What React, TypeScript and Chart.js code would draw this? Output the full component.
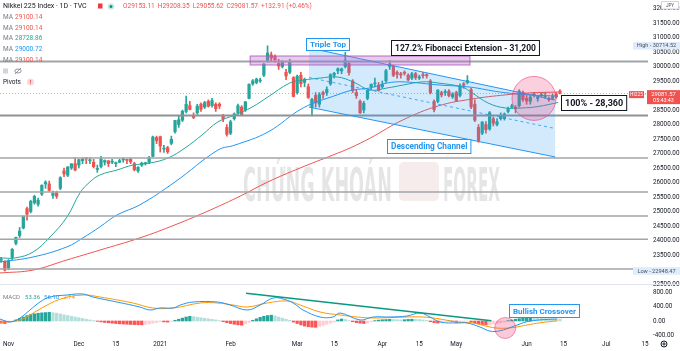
import React, { useEffect, useRef } from 'react';
import { Chart, registerables } from 'chart.js';

Chart.register(...registerables);

// ---------- DATA (daily bars, index 0 = Nov 2 2020; first bar = Oct 29 2020) ----------
const FIRST_BAR = -2;

const opens = [
  23320, 23280,
  23060, 23420, 23900, 24170, 24430, 25100, 25000, 25300, 25250, 25600, 25950, 25950, 25550, 25650, 25800, 26400, 26250, 26500, 26650,
  26600, 26750, 26850, 26750, 26700, 26450, 26550, 26700, 26750, 26700, 26650, 26700, 26780, 26780, 26800, 26650, 26400, 26600, 26650, 26700, 26900, 27550,
  27580, 27150, 27200, 27350, 27750, 28000, 28150, 28450, 28650, 28300, 28400, 28700, 28600, 28800, 28650, 28700, 28700, 28300, 27900,
  27700, 28200, 28400, 28600, 28500, 28900, 29400, 29450, 29500, 29700, 30200, 30400, 30350, 30100, 30000, 29800, 29800, 29616,
  29100, 29700, 29450, 29300, 28600, 29000, 28700, 29100, 29100, 29400, 29700, 29850, 29850, 30000, 30100, 29500, 29100, 28800, 28500, 28900, 29300, 29400, 29350,
  29300, 29500, 30000, 30000, 29800, 29750, 29800, 29700, 29600, 29750, 29600, 29700, 29700, 29500, 28800, 28800, 29100, 29100, 29150, 28950, 29100,
  29000, 29400, 29450, 29200, 28700, 27900, 27700, 28000, 27850, 28200, 28000, 28200, 28200, 28450, 28600, 28600, 28650, 29100,
  28900, 28800, 29000, 28900, 29000, 28950, 28900, 28900, 29050, 29153.11,
];
const highs = [
  23420, 23300,
  23340, 23725, 24120, 24450, 24840, 25150, 25390, 25560, 25460, 25920, 26060, 26050, 25700, 25700, 26200, 26500, 26550, 26650, 26850,
  26800, 26850, 26850, 26850, 26800, 26600, 26900, 26780, 26750, 26800, 26700, 26800, 26850, 26800, 26850, 26700, 26550, 26700, 26700, 26900, 27600, 27600,
  27600, 27280, 27250, 27600, 28140, 28290, 28500, 28980, 28800, 28400, 28700, 28750, 28800, 28850, 28900, 28750, 28750, 28350, 28000,
  28150, 28400, 28700, 28650, 28800, 29400, 29550, 29600, 29600, 30100, 30714.52, 30500, 30400, 30250, 30200, 29900, 30250, 29650,
  29700, 29800, 29600, 29400, 28900, 29100, 29100, 29150, 29300, 29750, 29800, 29950, 29950, 30485, 30150, 29550, 29200, 28850, 28800, 29200, 29400, 29600, 29450,
  29500, 29900, 30208, 30050, 29850, 29800, 29850, 29750, 29800, 29800, 29700, 29800, 29750, 29550, 28850, 29200, 29150, 29200, 29200, 29100, 29150,
  29400, 29450, 29685, 29250, 28850, 28000, 28100, 28100, 28450, 28250, 28200, 28400, 28400, 28600, 28700, 28650, 29200, 29150,
  29000, 29000, 29100, 29000, 29100, 29100, 28950, 29050, 29100, 29208.35,
];
const lows = [
  23250, 22948.47,
  22990, 23340, 23850, 24100, 24400, 24700, 24950, 25250, 25180, 25550, 25800, 25700, 25450, 25450, 25750, 26200, 26200, 26450, 26400,
  26500, 26650, 26650, 26650, 26500, 26350, 26500, 26600, 26550, 26650, 26550, 26680, 26700, 26650, 26650, 26400, 26350, 26550, 26600, 26650, 26880, 27340,
  27050, 27040, 27000, 27300, 27700, 27900, 28100, 28400, 28500, 28200, 28350, 28450, 28550, 28600, 28600, 28450, 28550, 28100, 27600,
  27650, 28150, 28350, 28300, 28450, 28880, 29350, 29400, 29450, 29650, 30150, 30200, 30150, 29900, 29950, 29550, 29750, 28950,
  29050, 29300, 29300, 28900, 28300, 28600, 28600, 28900, 29000, 29350, 29600, 29750, 29750, 29950, 29700, 29100, 28900, 28380, 28400, 28850, 29200, 29300, 29150,
  29250, 29450, 29900, 29650, 29600, 29600, 29700, 29500, 29550, 29550, 29550, 29600, 29600, 29050, 28430, 28750, 28950, 29000, 28950, 28900, 28800,
  28950, 29250, 29400, 28550, 28100, 27385, 27650, 27700, 27800, 27950, 27950, 28150, 28150, 28400, 28550, 28400, 28600, 28800,
  28700, 28700, 28950, 28800, 28950, 28900, 28800, 28850, 28900, 29055.62,
];
const closes = [
  23331, 22977,
  23295, 23695, 24105, 24325, 24839, 24905, 25349, 25520, 25385, 25906, 26014, 25728, 25634, 25527, 26165, 26296, 26537, 26644, 26433,
  26787, 26800, 26809, 26751, 26547, 26467, 26817, 26756, 26652, 26732, 26687, 26757, 26806, 26763, 26714, 26436, 26524, 26668, 26656, 26854, 27568, 27444,
  27258, 27158, 27056, 27490, 28139, 28164, 28456, 28698, 28519, 28242, 28633, 28523, 28756, 28631, 28822, 28546, 28635, 28197, 27663,
  28091, 28362, 28646, 28341, 28779, 29388, 29505, 29562, 29520, 30084, 30467, 30292, 30236, 30017, 30156, 29671, 30168, 28966,
  29663, 29408, 29559, 28930, 28864, 28743, 29028, 29036, 29211, 29717, 29766, 29921, 29914, 30216, 29792, 29174, 28995, 28405, 28729, 29176, 29384, 29432, 29178,
  29388, 29854, 30089, 29696, 29730, 29708, 29768, 29538, 29751, 29620, 29642, 29683, 29685, 29100, 28508, 29188, 29020, 29126, 28991, 29053, 28812,
  29331, 29357, 29518, 28608, 28147, 27448, 28084, 27824, 28406, 28044, 28098, 28317, 28364, 28553, 28642, 28549, 29149, 28860,
  28814, 28946, 29058, 28941, 29019, 28963, 28860, 28958, 28949, 29081.57,
];

// moving averages: [bar index, price]
const maGreen = [
  [-2.3, 23400], [1.8, 23400], [6.6, 23600], [11.2, 24120], [15.8, 24810], [19.3, 25640], [22, 26020], [24.7, 26260],
  [29.3, 26430], [33.6, 26600], [38.2, 26670], [43.1, 26845], [47.7, 27190], [52.3, 27640], [56.6, 28090], [61.2, 28330],
  [65.8, 28600], [70.1, 28950], [76, 29430], [79.6, 29530], [84.2, 29600], [88.8, 29640], [93.1, 29470], [97.7, 29190],
  [102.3, 29260], [106.6, 29360], [111.8, 29470], [116.1, 29430], [122.6, 29290], [125.3, 29090], [129.6, 28740],
  [134.2, 28570], [138.8, 28570], [143.1, 28620], [148.5, 28760],
];
const maBlue = [
  [-2.3, 23260], [6.6, 23430], [15.8, 23780], [20.1, 24090], [24.7, 24470], [29.3, 24880], [35.5, 25230], [45, 26020],
  [56.6, 27120], [61.2, 27290], [70.1, 27740], [79.6, 28570], [88.8, 29020], [93.1, 29190], [97.7, 29260], [102.3, 29430],
  [106.6, 29470], [116.6, 29360], [124.7, 29290], [132.8, 29120], [140.9, 29020], [148.5, 28980],
];
const maRed = [
  [-2.3, 22880], [6.6, 22980], [15.8, 23330], [24.7, 23670], [35.5, 24090], [45, 24540], [54.5, 25050], [62.6, 25530],
  [70.1, 26020], [78.8, 26500], [87.7, 26950], [92.3, 27190], [97.7, 27530], [106.6, 28160], [116.1, 28640], [125.3, 28880],
  [134.2, 29020], [140.9, 29090], [148.5, 29120],
];

// MACD pane
const macdLine = [
  [-2.3, 55], [0.4, -28], [3.1, 83], [5.8, 303], [8.5, 524], [11.2, 662], [15.8, 717], [20.1, 745], [22.8, 662], [29.3, 524],
  [35.5, 386], [38.2, 303], [40.9, 359], [44.5, 359], [46.4, 441], [49.9, 524], [56.4, 524], [59.9, 441], [64.5, 303], [68, 441],
  [71.5, 634], [74.2, 607], [76.9, 497], [79.6, 303], [84.2, 110], [87.7, 110], [89.6, 221], [95, 28], [98.5, 110], [103.1, 110],
  [107.7, 138], [111.2, 221], [113.9, 110], [116.6, -28], [121.2, -55], [123.9, -55], [127.4, -166], [130.1, -280], [132.8, -270],
  [136.4, -150], [140.1, -20], [143.6, 30], [148.2, 56.1],
];
const signalLine = [
  [-2.3, -28], [3.1, 28], [8.5, 330], [13.9, 600], [20.1, 717], [24.7, 662], [33.6, 497], [39, 359], [44.5, 359], [51.8, 497],
  [56.4, 497], [60.7, 441], [64.5, 386], [69.9, 497], [75.3, 552], [78.8, 441], [84.2, 248], [89.6, 166], [94.2, 110], [98.5, 83],
  [107.7, 110], [112, 110], [116.6, 55], [121.2, -28], [125.5, -55], [130.1, -166], [132.8, -200], [136.4, -180], [140.1, -110],
  [143.6, -50], [148.2, 2.74],
];
const macdHist = [
  -60, -70, -50,
  -10, 30, 70, 110, 150, 180, 200, 215, 225, 232, 238,
  230, 215, 195, 170, 150, 130, 110, 90, 70, 50, 30, 10,
  -10, -25, -40, -50, -60, -70, -78, -85, -90, -95, -100, -103, -105,
  -95, -80, -60, -40, -20,
  -25, -30,
  -10,
  20, 50, 80, 110, 130,
  120, 105, 90, 75, 60, 45, 30, 10,
  -20, -45, -70, -90, -105, -115,
  -80, -40,
  20, 60, 100, 130, 150, 160,
  140, 110, 80, 50, 20,
  -30, -70, -110, -140, -160, -170, -175,
  -150, -120, -90, -60, -30,
  30, 55, 40, 10,
  -20, -45, -60, -70,
  -50, -20,
  10, 25, 35, 40, 45, 40, 35, 30, 35, 45, 50, 45, 40, 30, 15,
  -20, -45, -60,
  -35, -15, 10, -20, -40, -30, -15, -5,
  -30, -55, -80, -95, -105, -100, -85, -70, -50, -25,
  10, 30, 50, 65, 75, 85, 90,
  85, 80, 75, 70, 65, 60, 57, 53.36,
];

const priceTicks = [32000, 31500, 31000, 30500, 30000, 29500, 28500, 28000, 27500, 27000, 26500, 26000, 25500, 25000, 24500, 24000, 23500, 22500];
const macdTicks = [800, 400, 0, -400];
const timeTicks = [0, 19, 29, 41, 60, 78, 88, 101, 111, 121, 140, 150, 161.5, 172];
const timeLabels = ['Nov', 'Dec', '15', '2021', 'Feb', 'Mar', '15', 'Apr', '15', 'May', 'Jun', '15', 'Jul', '15'];
const levelPrices = [30170, 28310, 26845, 25670, 24845, 24045, 23018];

const legendTitle = 'Nikkei 225 Index · 1D · TVC';
const ohlcLegend = [['O', '29153.11'], ['H', '29208.35'], ['L', '29055.62'], ['C', '29081.57']];
const changeLegend = '+132.91 (+0.46%)';
const maLegend = [['29100.14', '#ef5350'], ['29100.14', '#ef5350'], ['28728.86', '#26a69a'], ['29000.72', '#2196f3'], ['29100.14', '#ef5350']];
const macdLegend = [['53.36', '#26a69a'], ['56.10', '#2196f3'], ['2.74', '#ff9800']];
const lastPrice = 29081.57;
const highPrice = 30714.52;
const lowPrice = 22948.47;

// drawings (data coordinates: bar index, price)
const channelTop = [[81.2, 30640], [147.7, 28845]];
const channelBottom = [[81.2, 28600], [147.7, 26880]];
const tripleTopZone = { x0: 65.3, x1: 124.7, p0: 30362, p1: 30052 };
const priceCircle = { x: 142, p: 28900 };
const macdCircle = { x: 134.2, v: -193 };
const macdTrend = [[64.2, 764], [130.5, 10]];
const mainLabels = [
  { text: 'Triple Top', x: 86.2, p: 30776, color: '#2196f3', font: 'bold 8px Roboto', h: 12 },
  { text: '127.2% Fibonacci Extension - 31,200', x: 123.4, p: 30655, color: '#131722', font: 'bold 8.5px Roboto', h: 15 },
  { text: '100% - 28,360', x: 158.1, p: 28759, color: '#131722', font: 'bold 9px Roboto', h: 15 },
  { text: 'Descending Channel', x: 113.6, p: 27259, color: '#2196f3', font: 'bold 8.3px Roboto', h: 14 },
];
const macdLabel = { text: 'Bullish Crossover', x: 144.7, v: 290, color: '#2196f3', font: 'bold 8px Roboto', h: 13 };

// ---------- styling ----------
const UP = '#26a69a';
const DOWN = '#ef5350';
const X_MIN = -2.3;
const X_MAX = 172.8;

function txt(ctx: any, s: string, x: number, y: number, font: string, color: string, align = 'left') {
  ctx.font = font;
  ctx.fillStyle = color;
  ctx.textAlign = align;
  ctx.textBaseline = 'middle';
  ctx.fillText(s, x, y);
}

function textBox(ctx: any, text: string, cx: number, cy: number, font: string, color: string, h: number) {
  ctx.font = font;
  const w = ctx.measureText(text).width + 7;
  const x = Math.round(cx - w / 2) + 0.5;
  const y = Math.round(cy - h / 2) + 0.5;
  ctx.fillStyle = '#ffffff';
  ctx.fillRect(x, y, w, h);
  ctx.strokeStyle = color;
  ctx.lineWidth = 1;
  ctx.strokeRect(x, y, w, h);
  txt(ctx, text, x + w / 2, y + h / 2 + 0.5, font, color, 'center');
}

function drawScaled(ctx: any, s: string, x: number, base: number, width: number) {
  const w = ctx.measureText(s).width;
  ctx.save();
  ctx.translate(x, base);
  ctx.scale(width / w, 1);
  ctx.textAlign = 'left';
  ctx.textBaseline = 'alphabetic';
  ctx.fillText(s, 0, 0);
  ctx.restore();
}

function candleColor(c: any) {
  const k = c.dataIndex;
  if (k === undefined) return UP;
  return closes[k] >= opens[k] ? UP : DOWN;
}

function histColor(c: any) {
  const k = c.dataIndex;
  if (k === undefined) return UP;
  const v = macdHist[k];
  const prev = k > 0 ? macdHist[k - 1] : 0;
  if (v >= 0) return v >= prev ? '#26a69a' : '#b2dfdb';
  return v < prev ? '#ff5252' : '#ffcdd2';
}

const toXY = (pts: number[][]) => pts.map(([x, y]) => ({ x, y }));

const mainOverlay = {
  id: 'mainOverlay',
  beforeDatasetsDraw(chart: any) {
    const ctx = chart.ctx;
    ctx.save();
    ctx.fillStyle = 'rgba(0,0,0,0.1)';
    ctx.font = 'bold 46px "DejaVu Sans"';
    drawScaled(ctx, 'CHỨNG KHOÁN', 243, 201, 149);
    drawScaled(ctx, 'FOREX', 443, 201, 57);
    ctx.fillStyle = 'rgba(200,120,120,0.14)';
    ctx.beginPath();
    ctx.roundRect(399, 162, 40, 39, 5);
    ctx.fill();
    ctx.restore();
  },
  afterDatasetsDraw(chart: any) {
    const { ctx, chartArea: a } = chart;
    const xs = chart.scales.x;
    const ys = chart.scales.y;
    const X = (v: number) => xs.getPixelForValue(v);
    const Y = (v: number) => ys.getPixelForValue(v);
    ctx.save();
    ctx.beginPath();
    ctx.rect(a.left, a.top, a.right - a.left, a.bottom - a.top);
    ctx.clip();

    // horizontal levels
    levelPrices.forEach((p, i) => {
      ctx.strokeStyle = i === 1 ? '#8f9196' : '#a2a4a8';
      ctx.lineWidth = i <= 1 ? 2 : 1.5;
      ctx.beginPath();
      ctx.moveTo(a.left, Y(p));
      ctx.lineTo(a.right, Y(p));
      ctx.stroke();
    });

    // current price line
    ctx.setLineDash([1, 2]);
    ctx.strokeStyle = 'rgba(239,83,80,0.55)';
    ctx.lineWidth = 1;
    ctx.beginPath();
    ctx.moveTo(a.left, Math.round(Y(lastPrice)) + 0.5);
    ctx.lineTo(a.right, Math.round(Y(lastPrice)) + 0.5);
    ctx.stroke();
    ctx.setLineDash([]);

    // descending channel
    const [[cx0, t0], [cx1, t1]] = channelTop;
    const [[, b0], [, b1]] = channelBottom;
    ctx.fillStyle = 'rgba(33,150,243,0.2)';
    ctx.beginPath();
    ctx.moveTo(X(cx0), Y(t0));
    ctx.lineTo(X(cx1), Y(t1));
    ctx.lineTo(X(cx1), Y(b1));
    ctx.lineTo(X(cx0), Y(b0));
    ctx.closePath();
    ctx.fill();
    ctx.strokeStyle = '#2196f3';
    ctx.lineWidth = 1;
    ctx.beginPath();
    ctx.moveTo(X(cx0), Y(t0));
    ctx.lineTo(X(cx1), Y(t1));
    ctx.moveTo(X(cx0), Y(b0));
    ctx.lineTo(X(cx1), Y(b1));
    ctx.stroke();
    ctx.setLineDash([3, 3]);
    ctx.strokeStyle = 'rgba(33,150,243,0.8)';
    ctx.beginPath();
    ctx.moveTo(X(cx0), Y((t0 + b0) / 2));
    ctx.lineTo(X(cx1), Y((t1 + b1) / 2));
    ctx.stroke();
    ctx.setLineDash([]);

    // triple top zone
    const z = tripleTopZone;
    ctx.fillStyle = 'rgba(186,104,200,0.35)';
    ctx.strokeStyle = 'rgba(170,90,190,0.85)';
    ctx.lineWidth = 1;
    ctx.fillRect(X(z.x0), Y(z.p0), X(z.x1) - X(z.x0), Y(z.p1) - Y(z.p0));
    ctx.strokeRect(X(z.x0), Y(z.p0), X(z.x1) - X(z.x0), Y(z.p1) - Y(z.p0));

    // circle
    ctx.beginPath();
    ctx.arc(X(priceCircle.x), Y(priceCircle.p), 22, 0, Math.PI * 2);
    ctx.fillStyle = 'rgba(236,64,122,0.25)';
    ctx.fill();
    ctx.strokeStyle = 'rgba(236,64,122,0.6)';
    ctx.stroke();
    ctx.restore();
  },
  afterDraw(chart: any) {
    const ctx = chart.ctx;
    const xs = chart.scales.x;
    const ys = chart.scales.y;
    const X = (v: number) => xs.getPixelForValue(v);
    const Y = (v: number) => ys.getPixelForValue(v);
    ctx.save();

    // legend
    txt(ctx, legendTitle, 3, 6.5, '7px Roboto', '#131722');
    ctx.fillStyle = '#f23645';
    ctx.fillRect(98, 3.5, 4.5, 5);
    ctx.beginPath();
    ctx.arc(111, 6.5, 3.3, 0, Math.PI * 2);
    ctx.fillStyle = 'rgba(38,166,154,0.25)';
    ctx.fill();
    ctx.beginPath();
    ctx.arc(111, 6.5, 1.5, 0, Math.PI * 2);
    ctx.fillStyle = '#089981';
    ctx.fill();
    const lf = '6.5px Roboto';
    ctx.font = lf;
    let lx = 123;
    ohlcLegend.forEach(([k, v]) => {
      txt(ctx, k, lx, 6.5, lf, '#ef5350');
      lx += ctx.measureText(k).width;
      txt(ctx, v, lx, 6.5, lf, '#ef5350');
      lx += ctx.measureText(v).width + 3;
    });
    txt(ctx, changeLegend, lx, 6.5, lf, '#ef5350');

    maLegend.forEach(([v, c], i) => {
      const y = 17 + i * 10.9;
      txt(ctx, 'MA', 3, y, lf, '#787b86');
      txt(ctx, v, 15, y, lf, c);
    });
    ctx.fillStyle = '#d1d4dc';
    ctx.fillRect(3, 68.5, 5, 5);
    ctx.strokeStyle = '#787b86';
    ctx.lineWidth = 0.8;
    ctx.beginPath();
    ctx.ellipse(18, 71, 3.2, 2, 0, 0, Math.PI * 2);
    ctx.stroke();
    ctx.beginPath();
    ctx.moveTo(15, 74);
    ctx.lineTo(21, 68);
    ctx.stroke();
    txt(ctx, 'Pivots', 3, 82, lf, '#131722');
    ctx.beginPath();
    ctx.arc(30.5, 82, 3.6, 0, Math.PI * 2);
    ctx.fillStyle = 'rgba(242,54,69,0.2)';
    ctx.fill();
    txt(ctx, '!', 30.5, 82.3, 'bold 5.5px Roboto', '#f23645', 'center');

    // price axis
    priceTicks.forEach((p) => txt(ctx, p.toFixed(2), 653, Y(p), '6.3px Roboto', '#131722'));
    ctx.fillStyle = '#ffffff';
    ctx.fillRect(661.5, 1.5, 17, 7.5);
    ctx.strokeStyle = '#d1d4dc';
    ctx.lineWidth = 1;
    ctx.strokeRect(661.5, 1.5, 17, 7.5);
    txt(ctx, 'JPY', 670, 5.5, '4.6px Roboto', '#50535e', 'center');

    const sideBadge = (label: string, y: number) => {
      ctx.fillStyle = '#deecfc';
      ctx.fillRect(633, y - 3.8, 47, 7.6);
      txt(ctx, label, 656.5, y + 0.2, '5.6px Roboto', '#4a4e5a', 'center');
    };
    sideBadge('High - ' + highPrice.toFixed(2), Y(highPrice));
    sideBadge('Low - ' + lowPrice.toFixed(2), Y(lowPrice));

    const ly = Y(lastPrice);
    ctx.fillStyle = '#ef5350';
    ctx.fillRect(629, ly - 2, 15, 7);
    txt(ctx, 'HI225', 636.5, ly + 1.6, '4.8px Roboto', '#ffffff', 'center');
    txt(ctx, '-', 645.5, ly + 1.5, '5px Roboto', '#ef5350', 'center');
    ctx.fillStyle = '#ef5350';
    ctx.fillRect(647, ly - 3, 33, 14);
    txt(ctx, lastPrice.toFixed(2), 663.5, ly + 1, '5.8px Roboto', '#ffffff', 'center');
    txt(ctx, '05:43:43', 663.5, ly + 7.2, '5.4px Roboto', '#ffffff', 'center');

    mainLabels.forEach((l) => textBox(ctx, l.text, X(l.x), Y(l.p), l.font, l.color, l.h));
    ctx.restore();
  },
};

const macdOverlay = {
  id: 'macdOverlay',
  afterDatasetsDraw(chart: any) {
    const { ctx, chartArea: a } = chart;
    const xs = chart.scales.x;
    const ys = chart.scales.y;
    const X = (v: number) => xs.getPixelForValue(v);
    const Y = (v: number) => ys.getPixelForValue(v);
    ctx.save();
    ctx.beginPath();
    ctx.rect(a.left, a.top, a.right - a.left, a.bottom - a.top);
    ctx.clip();
    ctx.strokeStyle = '#089981';
    ctx.lineWidth = 1.5;
    ctx.beginPath();
    ctx.moveTo(X(macdTrend[0][0]), Y(macdTrend[0][1]));
    ctx.lineTo(X(macdTrend[1][0]), Y(macdTrend[1][1]));
    ctx.stroke();
    ctx.beginPath();
    ctx.arc(X(macdCircle.x), Y(macdCircle.v), 10.5, 0, Math.PI * 2);
    ctx.fillStyle = 'rgba(236,64,122,0.28)';
    ctx.fill();
    ctx.strokeStyle = 'rgba(236,64,122,0.55)';
    ctx.lineWidth = 1;
    ctx.stroke();
    ctx.restore();
  },
  afterDraw(chart: any) {
    const ctx = chart.ctx;
    const xs = chart.scales.x;
    const ys = chart.scales.y;
    const X = (v: number) => xs.getPixelForValue(v);
    const Y = (v: number) => ys.getPixelForValue(v);
    ctx.save();
    ctx.strokeStyle = '#e0e3eb';
    ctx.lineWidth = 1;
    ctx.beginPath();
    ctx.moveTo(0, 0.5);
    ctx.lineTo(680, 0.5);
    ctx.stroke();

    const f = '6px Roboto';
    ctx.font = f;
    let lx = 3;
    txt(ctx, 'MACD', lx, 13, f, '#787b86');
    lx += ctx.measureText('MACD').width + 5;
    macdLegend.forEach(([v, c]) => {
      txt(ctx, v, lx, 13, f, c);
      lx += ctx.measureText(v).width + 4;
    });

    macdTicks.forEach((v) => txt(ctx, v.toFixed(2), 653, Y(v), '6.3px Roboto', '#131722'));
    timeTicks.forEach((t, i) => txt(ctx, timeLabels[i], X(t), 60, '6.3px Roboto', '#131722', 'center'));

    textBox(ctx, macdLabel.text, X(macdLabel.x), Y(macdLabel.v), macdLabel.font, macdLabel.color, macdLabel.h);

    // settings gear
    ctx.strokeStyle = '#131722';
    ctx.lineWidth = 1;
    ctx.beginPath();
    ctx.arc(664, 60, 3, 0, Math.PI * 2);
    ctx.stroke();
    ctx.beginPath();
    ctx.arc(664, 60, 1.1, 0, Math.PI * 2);
    ctx.stroke();
    ctx.restore();
  },
};

export default function App() {
  const mainRef = useRef<HTMLCanvasElement>(null);
  const macdRef = useRef<HTMLCanvasElement>(null);

  useEffect(() => {
    document.body.style.margin = '0';
    const barX = (k: number) => FIRST_BAR + k;
    const wicks = lows.map((l, k) => ({ x: barX(k), y: [l, highs[k]] }));
    const bodies = opens.map((o, k) => ({ x: barX(k), y: [o, closes[k]] }));
    const hist = macdHist.map((v, k) => ({ x: barX(k), y: v }));

    const main = new Chart(mainRef.current as HTMLCanvasElement, {
      type: 'bar',
      data: {
        datasets: [
          { type: 'line', label: 'MA', data: toXY(maGreen), borderColor: '#26a69a', borderWidth: 1, pointRadius: 0, tension: 0.4, order: 1 } as any,
          { type: 'line', label: 'MA', data: toXY(maBlue), borderColor: '#2196f3', borderWidth: 1, pointRadius: 0, tension: 0.4, order: 1 } as any,
          { type: 'line', label: 'MA', data: toXY(maRed), borderColor: '#ef5350', borderWidth: 1, pointRadius: 0, tension: 0.4, order: 1 } as any,
          { type: 'bar', label: 'wick', data: wicks, backgroundColor: candleColor, barThickness: 1, grouped: false, order: 3 } as any,
          { type: 'bar', label: 'body', data: bodies, backgroundColor: candleColor, barThickness: 2.6, grouped: false, minBarLength: 1, order: 2 } as any,
        ],
      },
      options: {
        responsive: false,
        animation: false,
        events: [],
        layout: { padding: { left: 0, right: 32, top: 0, bottom: 6 } },
        plugins: { legend: { display: false }, tooltip: { enabled: false } },
        scales: {
          x: { type: 'linear', min: X_MIN, max: X_MAX, display: false, offset: false },
          y: { type: 'linear', min: 22500, max: 32293, display: false },
        },
      } as any,
      plugins: [mainOverlay],
    });

    const macd = new Chart(macdRef.current as HTMLCanvasElement, {
      type: 'bar',
      data: {
        datasets: [
          { type: 'line', label: 'MACD', data: toXY(macdLine), borderColor: '#2196f3', borderWidth: 1, pointRadius: 0, tension: 0.4, order: 1 } as any,
          { type: 'line', label: 'Signal', data: toXY(signalLine), borderColor: '#ff9800', borderWidth: 1, pointRadius: 0, tension: 0.4, order: 1 } as any,
          { type: 'bar', label: 'Histogram', data: hist, backgroundColor: histColor, barThickness: 2.6, grouped: false, order: 2 } as any,
        ],
      },
      options: {
        responsive: false,
        animation: false,
        events: [],
        layout: { padding: { left: 0, right: 32, top: 0, bottom: 12 } },
        plugins: { legend: { display: false }, tooltip: { enabled: false } },
        scales: {
          x: { type: 'linear', min: X_MIN, max: X_MAX, display: false, offset: false },
          y: { type: 'linear', min: -497, max: 1021, display: false },
        },
      } as any,
      plugins: [macdOverlay],
    });

    return () => {
      main.destroy();
      macd.destroy();
    };
  }, []);

  return (
    <div style={{ position: 'fixed', left: 0, top: 0, width: 680, height: 351, background: '#ffffff', overflow: 'hidden' }}>
      <canvas ref={mainRef} width={680} height={290} style={{ position: 'absolute', left: 0, top: 0 }} />
      <canvas ref={macdRef} width={680} height={67} style={{ position: 'absolute', left: 0, top: 284 }} />
    </div>
  );
}
